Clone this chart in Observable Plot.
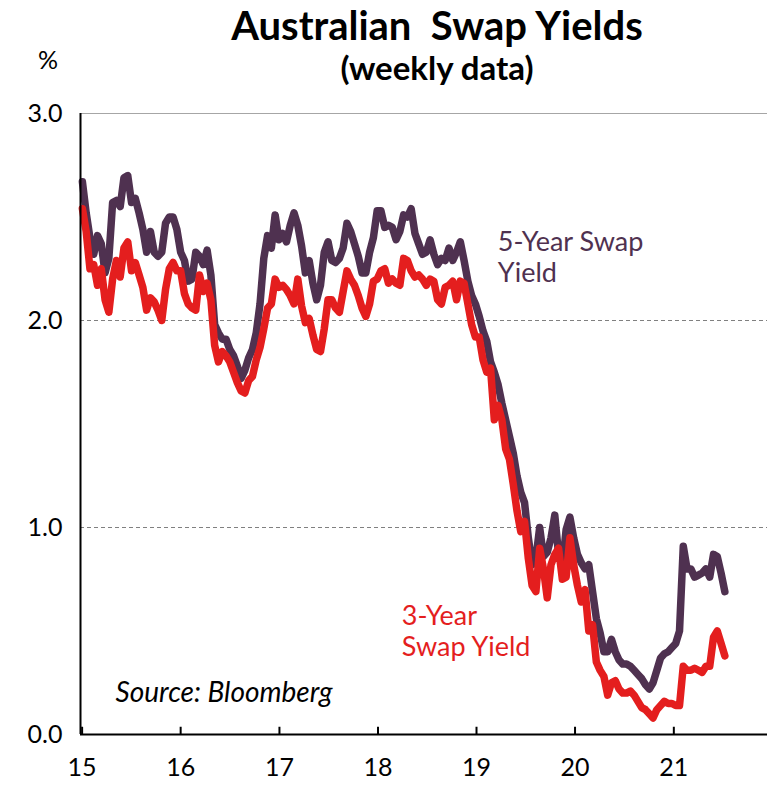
<!DOCTYPE html>
<html><head><meta charset="utf-8">
<script src="https://cdn.jsdelivr.net/npm/d3@7"></script>
<script src="https://cdn.jsdelivr.net/npm/@observablehq/plot@0.6"></script>
<style>
body{margin:0;background:#fff;font-family:Lato,sans-serif;}
#wrap{position:relative;width:767px;height:785px;overflow:hidden;background:#fff}
#head{position:relative;height:95px}
.t{position:absolute;left:107px;right:0;text-align:center;font-weight:700;color:#000;line-height:1;white-space:pre}
#title{top:5px;font-size:40px}
#sub{top:51px;font-size:33px}
#pct{position:absolute;left:38px;top:47px;font-size:25px;line-height:1;color:#000}
</style></head><body>
<div id="wrap">
<div id="head"><div id="title" class="t">Australian  Swap Yields</div><div id="sub" class="t">(weekly data)</div><div id="pct">%</div></div>
<div id="chart"></div>
</div>
<script>
// Fortnightly readings (first observation 2 Jan 2015, every 14 days)
const swap5y = [
2.67,2.52,2.40,2.32,2.41,2.37,2.23,2.30,2.57,2.58,
2.55,2.69,2.70,2.57,2.59,2.52,2.44,2.33,2.43,2.33,
2.31,2.33,2.47,2.50,2.50,2.44,2.33,2.29,2.19,2.20,
2.33,2.31,2.27,2.34,2.22,1.98,1.94,1.91,1.91,1.86,
1.83,1.78,1.72,1.76,1.82,1.86,1.94,2.08,2.30,2.41,
2.35,2.51,2.39,2.42,2.38,2.46,2.52,2.46,2.36,2.23,
2.29,2.18,2.10,2.17,2.33,2.38,2.29,2.28,2.30,2.35,
2.47,2.43,2.37,2.31,2.23,2.23,2.33,2.40,2.53,2.53,
2.45,2.46,2.45,2.39,2.43,2.51,2.50,2.54,2.42,2.37,
2.32,2.33,2.39,2.32,2.27,2.30,2.29,2.35,2.29,2.33,
2.38,2.29,2.19,2.12,2.08,2.02,1.95,1.90,1.80,1.75,
1.69,1.60,1.52,1.44,1.36,1.25,1.17,1.12,0.95,0.82,
0.85,1.00,0.86,0.88,0.95,1.06,0.87,0.81,0.99,1.05,
0.95,0.87,0.83,0.80,0.82,0.69,0.56,0.49,0.40,0.40,
0.46,0.40,0.36,0.34,0.34,0.33,0.31,0.29,0.27,0.24,
0.22,0.25,0.31,0.37,0.39,0.40,0.42,0.44,0.50,0.91,
0.80,0.80,0.76,0.77,0.78,0.80,0.76,0.87,0.86,0.78,0.69];
const swap3y = [
2.54,2.43,2.25,2.27,2.17,2.25,2.10,2.04,2.20,2.29,
2.21,2.35,2.38,2.24,2.28,2.22,2.16,2.05,2.11,2.09,
2.05,2.00,2.15,2.25,2.28,2.24,2.24,2.13,2.08,2.06,
2.05,2.22,2.14,2.18,2.10,1.88,1.80,1.85,1.83,1.80,
1.75,1.70,1.66,1.65,1.71,1.73,1.81,1.87,1.96,2.06,
2.08,2.20,2.16,2.17,2.15,2.12,2.08,2.20,2.07,1.99,
2.01,1.93,1.86,1.85,1.96,2.10,2.10,2.06,2.04,2.14,
2.24,2.20,2.17,2.12,2.06,2.02,2.08,2.19,2.20,2.24,
2.25,2.18,2.20,2.18,2.17,2.30,2.29,2.24,2.21,2.22,
2.20,2.17,2.20,2.19,2.10,2.08,2.16,2.17,2.19,2.10,
2.19,2.18,2.08,1.98,1.92,1.92,1.81,1.75,1.77,1.52,
1.59,1.52,1.38,1.33,1.21,1.08,0.98,1.03,0.85,0.72,
0.69,0.90,0.80,0.66,0.82,0.87,0.90,0.75,0.76,0.95,
0.82,0.72,0.64,0.70,0.50,0.53,0.35,0.31,0.28,0.19,
0.25,0.26,0.22,0.20,0.20,0.21,0.19,0.16,0.13,0.12,
0.10,0.08,0.12,0.14,0.16,0.15,0.15,0.14,0.14,0.33,
0.31,0.31,0.32,0.31,0.30,0.33,0.33,0.47,0.50,0.44,0.38];
const xTickYears = [15,16,17,18,19,20,21];
const yTicks = [0,1,2,3];
const gridLines = [1,2];
const labels = [
  {text:"5-Year Swap\nYield", date:"2019-03-21", v:2.31, color:"#4f3150"},
  {text:"3-Year\nSwap Yield", date:"2018-03-30", v:0.50, color:"#e41e1e"}
];
const sourceNote = [{text:"Source: Bloomberg", date:"2015-05-05", v:0.20}];

const start = new Date(2015,0,2);
const dates = swap5y.map((_, i) => d3.timeDay.offset(start, 14*i));
const rows5 = dates.map((d,i)=>({date:d, v:swap5y[i]}));
const rows3 = dates.map((d,i)=>({date:d, v:swap3y[i]}));
const tickDates = xTickYears.map(y => new Date(2000+y,0,1));
const x0 = new Date(2014,11,26), x1 = new Date(2021,11,14);
const lab = labels.map(d=>({...d, date:new Date(d.date)}));
const src = sourceNote.map(d=>({...d, date:new Date(d.date)}));

const chart = Plot.plot({
  width:767, height:690, marginTop:18, marginBottom:51, marginLeft:80, marginRight:0,
  style:{fontFamily:"Lato, sans-serif", fontSize:"25px", color:"#000", background:"#fff", overflow:"visible"},
  x:{type:"time", domain:[x0,x1]},
  y:{domain:[0,3]},
  marks:[
    Plot.ruleY(gridLines, {stroke:"#808080", strokeDasharray:"4,3", strokeWidth:1.2}),
    Plot.ruleY([3], {stroke:"#a6a6a6", strokeWidth:1}),
    Plot.ruleX([x1], {stroke:"#a6a6a6", strokeWidth:1}),
    Plot.axisY({ticks:yTicks, tickFormat:d=>d.toFixed(1), tickSize:0, tickPadding:18, label:null, fontSize:25}),
    Plot.axisX({ticks:tickDates, tickFormat:d=>String(d.getFullYear()%100), tickSize:0, tickPadding:24, label:null, fontSize:25}),
    Plot.ruleX(tickDates, {y1:0, y2:0.035, stroke:"#000", strokeWidth:2}),
    Plot.line(rows5, {x:"date", y:"v", stroke:"#4f3150", strokeWidth:7.5, strokeLinejoin:"round", strokeLinecap:"round"}),
    Plot.line(rows3, {x:"date", y:"v", stroke:"#e41e1e", strokeWidth:7.5, strokeLinejoin:"round", strokeLinecap:"round"}),
    Plot.ruleX([x0], {stroke:"#000", strokeWidth:2}),
    Plot.ruleY([0], {stroke:"#000", strokeWidth:2}),
    Plot.text(lab, {x:"date", y:"v", text:"text", fill:"color", textAnchor:"start", lineAnchor:"middle", lineHeight:1.15, fontSize:27}),
    Plot.text(src, {x:"date", y:"v", text:"text", fill:"#000", textAnchor:"start", fontSize:28, fontStyle:"italic"})
  ]
});
document.getElementById("chart").appendChild(chart);
</script>
</body></html>
